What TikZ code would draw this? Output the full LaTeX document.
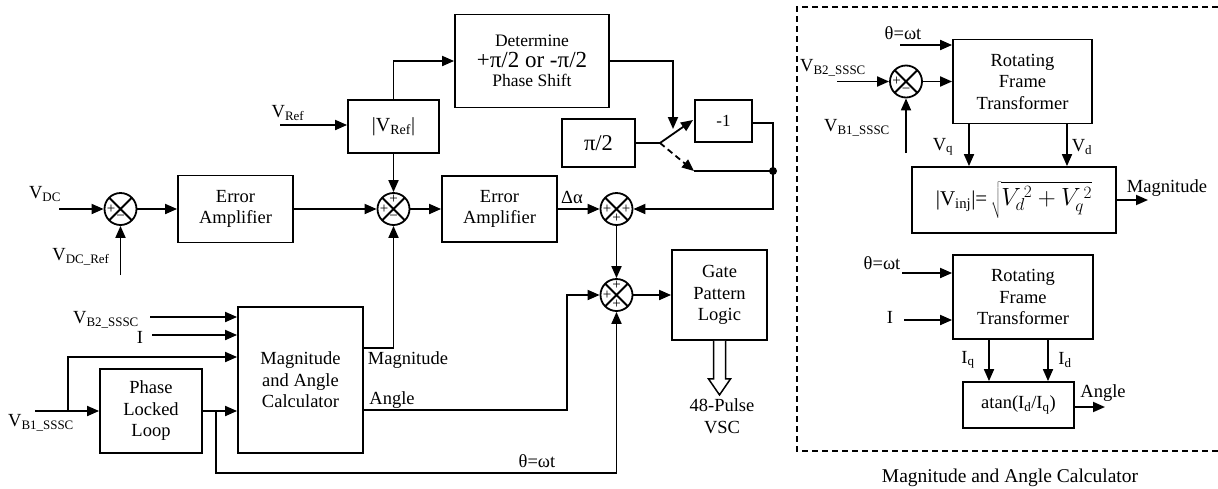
\documentclass[tikz,border=0pt]{standalone}
\usepackage{fontspec}
\setmainfont{Liberation Serif}
\usetikzlibrary{arrows.meta,calc}
\begin{document}
\begin{tikzpicture}[x=1pt,y=-1pt,
  font=\fontsize{18.5}{21.5}\selectfont,
  blk/.style={draw,line width=1.8pt,align=center,inner sep=0pt},
  wire/.style={line width=1.8pt},
  arr/.style={line width=1.8pt,-{Triangle[length=12pt,width=10pt]}},
  sumn/.style={circle,draw,line width=1.8pt,minimum size=32pt,inner sep=0pt,
    path picture={\draw[line width=1.8pt] (path picture bounding box.north west)--(path picture bounding box.south east) (path picture bounding box.north east)--(path picture bounding box.south west);}},
  sgn/.style={font=\fontsize{15}{15}\selectfont,inner sep=0pt},
  lbl/.style={inner sep=0pt,align=center},
  dsh/.style={dash pattern=on 6pt off 4pt},
]
\useasboundingbox (0,0) rectangle (1218,488);

% ---------------- blocks ----------------
\node[blk,minimum width=115pt,minimum height=67pt] (ea1) at (235.5,209) {Error\\Amplifier};
\node[blk,minimum width=91pt,minimum height=53pt,font=\fontsize{20}{22}\selectfont] (vref) at (393.5,126.5) {|V\textsubscript{Ref}|};
\node[blk,minimum width=154pt,minimum height=93pt] (det) at (532,61)
  {{\fontsize{17.5}{20}\selectfont Determine}\\[-1pt]{\fontsize{23}{25}\selectfont +π/2 or -π/2}\\[-2pt]{\fontsize{17.5}{20}\selectfont Phase Shift}};
\node[blk,minimum width=73pt,minimum height=48pt,font=\fontsize{22.5}{24}\selectfont] (pi2) at (598.5,143) {π/2};
\node[blk,minimum width=57pt,minimum height=42pt,font=\fontsize{17}{19}\selectfont] (neg1) at (723.5,121) {-1};
\node[blk,minimum width=115pt,minimum height=66pt] (ea2) at (499.5,209) {Error\\Amplifier};
\node[blk,minimum width=95pt,minimum height=90pt] (gate) at (719.5,295) {Gate\\Pattern\\Logic};
\node[blk,minimum width=125pt,minimum height=146pt] (mac) at (300.5,380) {Magnitude\\and Angle\\Calculator};
\node[blk,minimum width=102pt,minimum height=84pt] (pll) at (151,411) {Phase\\Locked\\Loop};
\node[blk,minimum width=139pt,minimum height=84pt] (rft1) at (1022.5,81.5) {Rotating\\Frame\\Transformer};
\node[blk,minimum width=204pt,minimum height=66pt,font=\fontsize{21}{24}\selectfont] (form) at (1014,200)
  {|V\textsubscript{inj}|=\,{\fontsize{25}{27}\selectfont$\sqrt{V_d^{\,2}+V_q^{\,2}}$}};
\node[blk,minimum width=140pt,minimum height=84pt] (rft2) at (1023,297) {Rotating\\Frame\\Transformer};
\node[blk,minimum width=111pt,minimum height=46pt] (atan) at (1018.5,405) {atan(I\textsubscript{d}/I\textsubscript{q})};

% ---------------- summing junctions ----------------
\node[sumn] (s1) at (120.5,209) {};
\node[sumn] (s2) at (393.5,209) {};
\node[sumn] (s3) at (616.5,209) {};
\node[sumn] (s4) at (616.5,295) {};
\node[sumn] (s5) at (906,81.5) {};

\node[sgn] at ($(s1)+(-9.5,0)$) {+};
\node[sgn] at ($(s1)+(0,9)$) {−};
\node[sgn] at ($(s2)+(-9.5,0)$) {+};
\node[sgn] at ($(s2)+(0,-9.5)$) {+};
\node[sgn] at ($(s2)+(0,9)$) {−};
\node[sgn] at ($(s3)+(-9.5,0)$) {+};
\node[sgn] at ($(s3)+(9.5,0)$) {+};
\node[sgn] at ($(s3)+(0,9.5)$) {+};
\node[sgn] at ($(s4)+(-9.5,0)$) {+};
\node[sgn] at ($(s4)+(0,-9.5)$) {+};
\node[sgn] at ($(s4)+(0,9.5)$) {+};
\node[sgn] at ($(s5)+(-9.5,0)$) {+};
\node[sgn] at ($(s5)+(0,9)$) {−};

% ---------------- labels ----------------
\node[lbl] (lvdc) at (45,194) {V\textsubscript{DC}};
\node[lbl] (lvdcr) at (81,257) {V\textsubscript{DC\_Ref}};
\node[lbl] (lvref) at (288,113) {V\textsubscript{Ref}};
\node[lbl] (lvb2) at (106,320) {V\textsubscript{B2\_SSSC}};
\node[lbl] (li) at (140,337) {I};
\node[lbl] (lvb1) at (41,423) {V\textsubscript{B1\_SSSC}};
\node[lbl] (lmag) at (408,360) {Magnitude};
\node[lbl] (lang) at (392,400) {Angle};
\node[lbl] (lth) at (537,461) {θ=ωt};
\node[lbl] (lda) at (572,197) {Δα};
\node[lbl] (vsc) at (722,416) {48-Pulse\\VSC};

\node[lbl] (rth1) at (903,33) {θ=ωt};
\node[lbl] (rvb2) at (833,68) {V\textsubscript{B2\_SSSC}};
\node[lbl] (rvb1) at (857,128) {V\textsubscript{B1\_SSSC}};
\node[lbl] (rvq) at (943,147) {V\textsubscript{q}};
\node[lbl] (rvd) at (1082,147) {V\textsubscript{d}};
\node[lbl] (rmag) at (1167,188) {Magnitude};
\node[lbl] (rth2) at (882,263) {θ=ωt};
\node[lbl] (ri) at (890,317) {I};
\node[lbl] (riq) at (968,360) {I\textsubscript{q}};
\node[lbl] (rid) at (1065,360) {I\textsubscript{d}};
\node[lbl] (rang) at (1103,393) {Angle};
\node[lbl,font=\fontsize{19.5}{22}\selectfont] (cap) at (1010,478) {Magnitude and Angle Calculator};

% ---------------- main loop connectors ----------------
\coordinate (vdcin) at (59,209);
\draw[arr] (vdcin) -- (s1.west);
\coordinate (vdcr) at (120.5,275);
\draw[arr] (vdcr) -- (s1.south);
\draw[arr] (s1.east) -- (ea1.west);
\draw[arr] (ea1.east) -- (s2.west);
\coordinate (vrefin) at (280,125);
\draw[arr] (vrefin) -- (vrefin -| vref.west);
\draw[arr] (vref.south) -- (s2.north);
\draw[arr] (vref.north) |- (det.west);
\coordinate (swtop) at (673,129);
\draw[arr] (det.east) -| (swtop);
\coordinate (piv) at (660,143);
\draw[wire] (pi2.east) -- (piv);
\coordinate (swa) at (693,120);
\draw[arr] (piv) -- (swa);
\coordinate (dshe) at (694,171);
\draw[arr,dsh] (piv) -- (dshe);
\coordinate (jn) at (773,171);
\draw[wire] (dshe) -- (jn);
\draw[wire] ([yshift=-2pt]neg1.east) -| (jn);
\draw[arr] (jn) |- (s3.east);
\fill (jn) circle (4);
\draw[arr] (s2.east) -- (ea2.west);
\draw[arr] (ea2.east) -- (s3.west);
\draw[arr] (s3.south) -- (s4.north);
\draw[arr] (s4.east) -- (gate.west);
\draw[line width=1.5pt,fill=white] ($(gate.south)+(-6,0)$) -- ($(gate.south)+(-6,38)$) -- ($(gate.south)+(-11,38)$)
  -- ($(gate.south)+(0,54)$) -- ($(gate.south)+(11,38)$) -- ($(gate.south)+(6,38)$) -- ($(gate.south)+(6,0)$);

% ---------------- magnitude/angle calculator connectors ----------------
\coordinate (vb2in) at (150,317);
\draw[arr] (vb2in) -- (vb2in -| mac.west);
\coordinate (iin) at (152,335);
\draw[arr] (iin) -- (iin -| mac.west);
\coordinate (vb1in) at (35,411);
\draw[arr] (vb1in) -- (pll.west);
\coordinate (br1) at (68,411);
\coordinate (br1t) at (68,357);
\draw[arr] (br1) -- (br1t) -- (br1t -| mac.west);
\draw[arr] (pll.east) -- (pll.east -| mac.west);
\coordinate (br2) at (216,411);
\coordinate (thb) at (216,473);
\draw[arr] (br2) -- (thb) -| (s4.south);
\draw[arr] ([yshift=32pt]mac.east) -| (s2.south);
\draw[arr] ([yshift=-30pt]mac.east) -- ++(203,0) |- (s4.west);

% ---------------- right panel ----------------
\draw[line width=1.5pt,dsh] (1218,7) -- (797,7) -- (797,451) -- (1218,451);
\coordinate (th1in) at (900,45);
\draw[arr] (th1in) -- (th1in -| rft1.west);
\coordinate (rvb2in) at (837,81.5);
\draw[arr] (rvb2in) -- (s5.west);
\draw[arr] (s5.east) -- (rft1.west);
\coordinate (rvb1in) at (906,153);
\draw[arr] (rvb1in) -- (s5.south);
\coordinate (vqx) at (969,0);
\coordinate (vdx) at (1067,0);
\draw[arr] (vqx |- rft1.south) -- (vqx |- form.north);
\draw[arr] (vdx |- rft1.south) -- (vdx |- form.north);
\coordinate (magend) at (1148,200);
\draw[arr] (form.east) -- (magend);
\coordinate (th2in) at (902,273);
\draw[arr] (th2in) -- (th2in -| rft2.west);
\coordinate (i2in) at (904,320);
\draw[arr] (i2in) -- (i2in -| rft2.west);
\coordinate (iqx) at (989,0);
\coordinate (idx) at (1048,0);
\draw[arr] (iqx |- rft2.south) -- (iqx |- atan.north);
\draw[arr] (idx |- rft2.south) -- (idx |- atan.north);
\coordinate (angend) at (1105,407);
\draw[arr] (atan.east |- angend) -- (angend);
\end{tikzpicture}
\end{document}
